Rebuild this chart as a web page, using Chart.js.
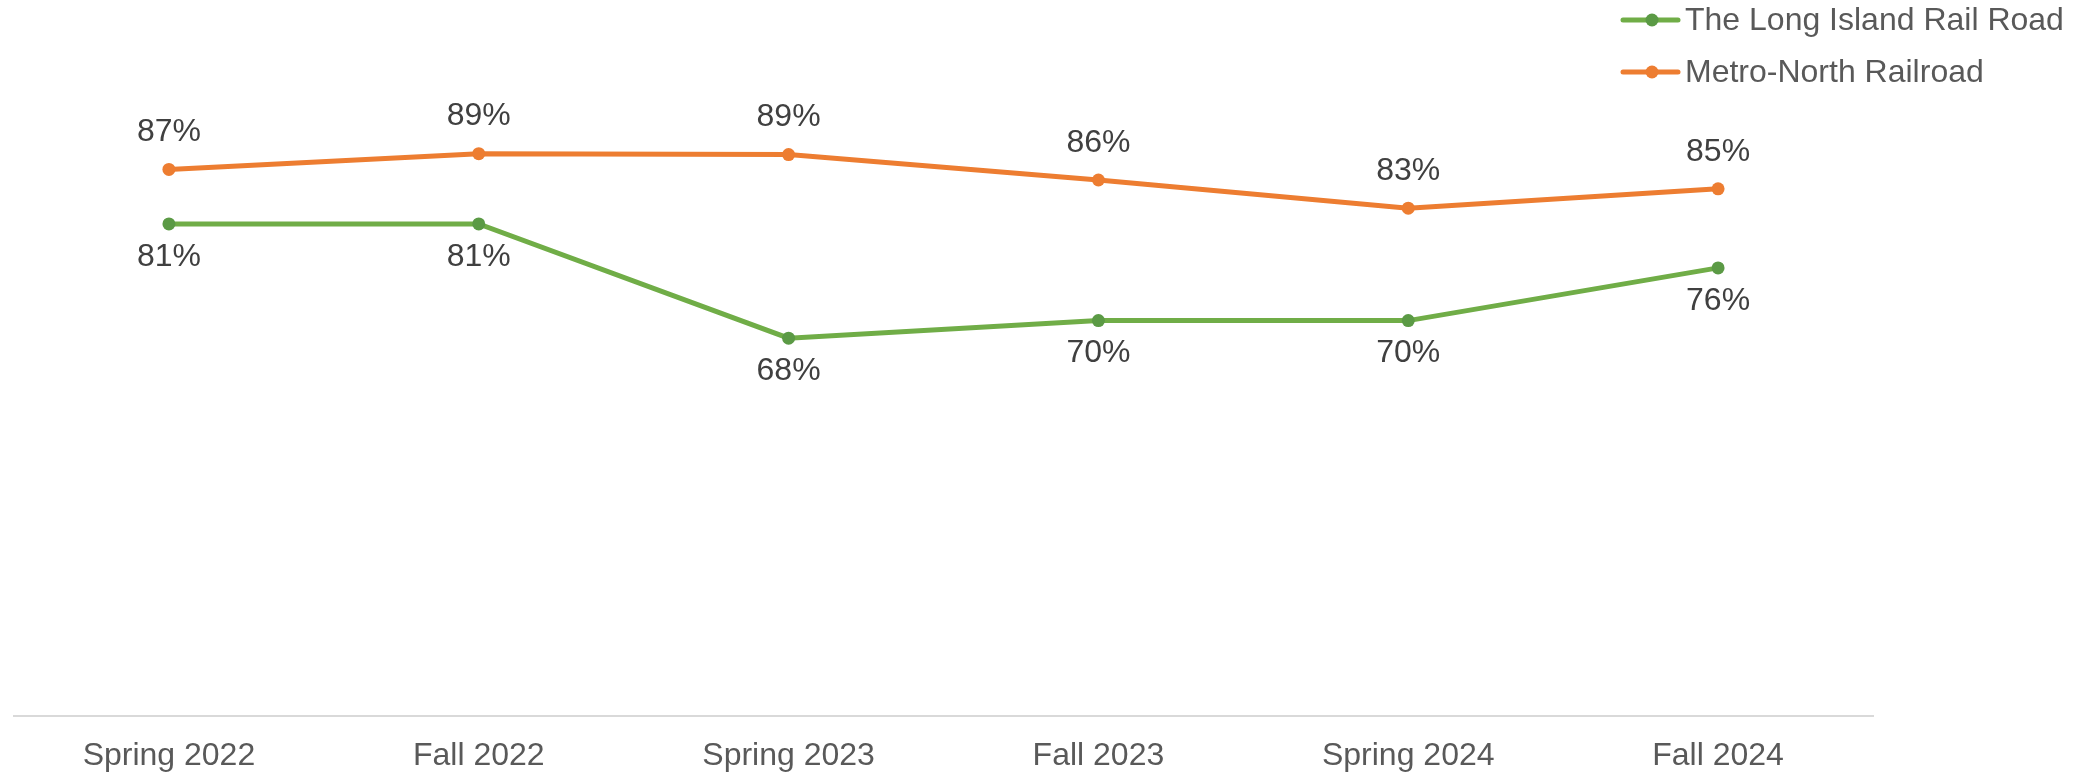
<!DOCTYPE html>
<html>
<head>
<meta charset="utf-8">
<style>
  html, body { margin: 0; padding: 0; background: #fff; }
  #wrap { width: 2088px; height: 772px; }
</style>
<script src="https://cdn.jsdelivr.net/npm/chart.js@4/dist/chart.umd.min.js"></script>
</head>
<body>
<div id="wrap"><canvas id="myChart" width="2088" height="772"></canvas></div>
<script>
const seasons = ['Spring 2022', 'Fall 2022', 'Spring 2023', 'Fall 2023', 'Spring 2024', 'Fall 2024'];
const lirrValues = [81, 81, 68, 70, 70, 76];
const mnrValues = [87.2, 89, 88.9, 86, 82.8, 85];

const FONT = '"Liberation Sans", Arial, Helvetica, sans-serif';

// value labels above / below each point, like the data labels in the original
const pointLabels = {
    id: 'pointLabels',
    afterDatasetsDraw(chart) {
        const ctx = chart.ctx;
        ctx.save();
        ctx.font = '32px ' + FONT;
        ctx.fillStyle = '#404040';
        ctx.textAlign = 'center';
        ctx.textBaseline = 'middle';
        chart.data.datasets.forEach((ds, i) => {
            const meta = chart.getDatasetMeta(i);
            meta.data.forEach((pt, j) => {
                ctx.fillText(Math.round(ds.data[j]) + '%', pt.x, pt.y + ds.labelOffset);
            });
        });
        ctx.restore();
    }
};

// legend stacked in the top right corner, over the plot
const stackedLegend = {
    id: 'stackedLegend',
    afterDraw(chart) {
        const ctx = chart.ctx;
        const left = chart.width - 465;
        ctx.save();
        ctx.font = '32px ' + FONT;
        ctx.textBaseline = 'middle';
        chart.data.datasets.forEach((ds, i) => {
            const y = 20 + i * 52;
            ctx.strokeStyle = ds.borderColor;
            ctx.lineWidth = 5;
            ctx.lineCap = 'round';
            ctx.beginPath();
            ctx.moveTo(left, y);
            ctx.lineTo(left + 55, y);
            ctx.stroke();
            ctx.fillStyle = ds.pointBackgroundColor;
            ctx.beginPath();
            ctx.arc(left + 29, y, 6.5, 0, Math.PI * 2);
            ctx.fill();
            ctx.fillStyle = '#595959';
            ctx.textAlign = 'left';
            ctx.fillText(ds.label, left + 62, y + 1);
        });
        ctx.restore();
    }
};

const ctx = document.getElementById('myChart').getContext('2d');
const myChart = new Chart(ctx, {
    type: 'line',
    data: {
        labels: seasons,
        datasets: [
            {
                label: 'The Long Island Rail Road',
                data: lirrValues,
                borderColor: '#70AD47',
                backgroundColor: '#70AD47',
                pointBackgroundColor: '#5B9A45',
                pointBorderColor: '#5B9A45',
                borderWidth: 5,
                pointRadius: 6.5,
                pointBorderWidth: 0,
                tension: 0,
                fill: false,
                labelOffset: 33
            },
            {
                label: 'Metro-North Railroad',
                data: mnrValues,
                borderColor: '#ED7D31',
                backgroundColor: '#ED7D31',
                pointBackgroundColor: '#ED7D31',
                pointBorderColor: '#ED7D31',
                borderWidth: 5,
                pointRadius: 6.5,
                pointBorderWidth: 0,
                tension: 0,
                fill: false,
                labelOffset: -37
            }
        ]
    },
    options: {
        responsive: false,
        animation: false,
        layout: {
            padding: { top: 57, bottom: 0, left: 14, right: 215 }
        },
        plugins: {
            legend: { display: false },
            tooltip: { enabled: false }
        },
        scales: {
            x: {
                offset: true,
                grid: { display: false, drawTicks: false },
                border: { display: true, color: '#D9D9D9', width: 2 },
                ticks: {
                    padding: 21,
                    color: '#595959',
                    font: { family: FONT, size: 32 }
                },
                // chart.js counts the tick padding twice; keep the axis band as tight as the original
                afterFit: (scale) => { scale.height = 56; }
            },
            y: {
                display: false,
                min: 25,
                max: 100
            }
        }
    },
    plugins: [pointLabels, stackedLegend]
});
</script>
</body>
</html>
